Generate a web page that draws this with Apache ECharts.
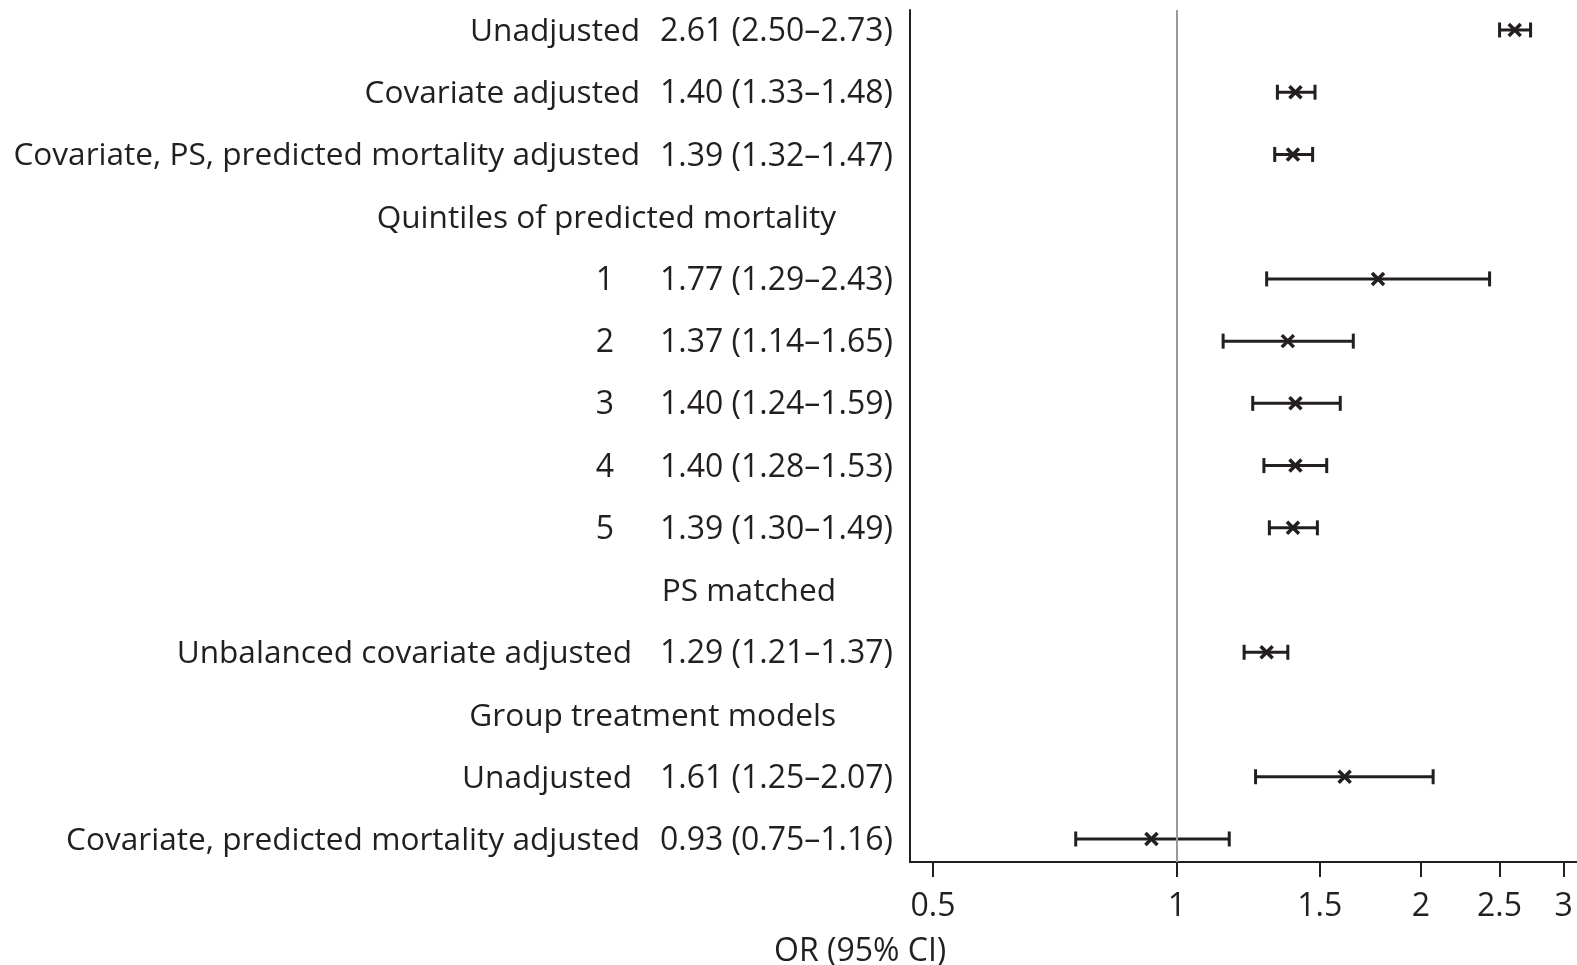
<!DOCTYPE html>
<html>
<head>
<meta charset="utf-8">
<script src="https://cdn.jsdelivr.net/npm/echarts@6/dist/echarts.min.js"></script>
<style>
  html, body { margin: 0; padding: 0; background: #fff; }
  #chart { width: 1577px; height: 965px; }
</style>
</head>
<body>
<div id="chart"></div>
<script>
// Row labels (top to bottom)
const rowLabels = [
  'Unadjusted',
  'Covariate adjusted',
  'Covariate, PS, predicted mortality adjusted',
  'Quintiles of predicted mortality',
  '1', '2', '3', '4', '5',
  'PS matched',
  'Unbalanced covariate adjusted',
  'Group treatment models',
  'Unadjusted',
  'Covariate, predicted mortality adjusted'
];
// row kind: d = data row, h = header, q = quintile row
const rowKinds = ['d','d','d','h','q','q','q','q','q','h','d2','h','d2','d'];
const estimates = [2.61, 1.40, 1.39, null, 1.77, 1.37, 1.40, 1.40, 1.39, null, 1.29, null, 1.61, 0.93];
const lowerCI   = [2.50, 1.33, 1.32, null, 1.29, 1.14, 1.24, 1.28, 1.30, null, 1.21, null, 1.25, 0.75];
const upperCI   = [2.73, 1.48, 1.47, null, 2.43, 1.65, 1.59, 1.53, 1.49, null, 1.37, null, 2.07, 1.16];
const xTickValues = [0.5, 1, 1.5, 2, 2.5, 3];

const ink = '#231f20';
const FONT = 'Open Sans';
const FS = 32;
const LFS = 31.6;

function fmt(v) { return v.toFixed(2); }
function ciText(i) {
  return fmt(estimates[i]) + ' (' + fmt(lowerCI[i]) + '\u2013' + fmt(upperCI[i]) + ')';
}

const seriesData = [];
estimates.forEach((e, i) => {
  if (e != null) seriesData.push([e, lowerCI[i], upperCI[i], i]);
});

const chart = echarts.init(document.getElementById('chart'), null, { renderer: 'canvas' });

chart.setOption({
  animation: false,
  backgroundColor: '#fff',
  textStyle: { fontFamily: FONT, color: ink },
  grid: { left: 910, right: 0, top: 10, bottom: 103, containLabel: false },
  xAxis: {
    type: 'log',
    logBase: 10,
    min: 0.4684,
    max: 3.115,
    splitLine: { show: false },
    axisLine: { show: true, onZero: false, lineStyle: { color: ink, width: 2 } },
    axisTick: { show: true, customValues: xTickValues, length: 15, lineStyle: { color: ink, width: 2 } },
    axisLabel: {
      customValues: xTickValues,
      margin: 29,
      fontSize: FS,
      fontFamily: FONT,
      color: ink,
      formatter: function (v) { return String(Math.round(v * 10) / 10); }
    },
    minorTick: { show: false },
    minorSplitLine: { show: false }
  },
  yAxis: {
    type: 'value',
    inverse: true,
    min: -0.321,
    max: 13.37,
    splitLine: { show: false },
    axisLine: { show: true, onZero: false, lineStyle: { color: ink, width: 2 } },
    axisTick: { show: false },
    axisLabel: {
      customValues: rowLabels.map((_, i) => i),
      margin: 17,
      fontSize: FS,
      fontFamily: FONT,
      color: ink,
      formatter: function (v) {
        const i = Math.round(v);
        const k = rowKinds[i];
        if (k === 'h') return '{h|' + rowLabels[i] + '}';
        if (k === 'q') return '{q|' + rowLabels[i] + '}{n|' + ciText(i) + '}';
        if (k === 'd2') return '{l2|' + rowLabels[i] + '}{n|' + ciText(i) + '}';
        return '{l|' + rowLabels[i] + '}{n|' + ciText(i) + '}';
      },
      rich: {
        h:  { fontSize: LFS, fontFamily: FONT, color: ink, align: 'right', padding: [4, 57, 0, 0] },
        q:  { fontSize: FS, fontFamily: FONT, color: ink, align: 'right', padding: [4, 35, 0, 0] },
        l:  { fontSize: LFS, fontFamily: FONT, color: ink, align: 'right', padding: [4, 9, 0, 0] },
        l2: { fontSize: LFS, fontFamily: FONT, color: ink, align: 'right', padding: [4, 17, 0, 0] },
        n:  { fontSize: FS, fontFamily: FONT, color: ink, align: 'right', width: 244, padding: [4, 0, 0, 0] }
      }
    }
  },
  graphic: [{
    type: 'text',
    left: 866 - 92,
    top: 936,
    style: { text: 'OR (95% CI)', font: FS + 'px "' + FONT + '"', fill: ink }
  }],
  series: [{
    type: 'custom',
    encode: { x: [0, 1, 2], y: 3 },
    data: seriesData,
    renderItem: function (params, api) {
      const y = api.value(3);
      const pE = api.coord([api.value(0), y]);
      const pL = api.coord([api.value(1), y]);
      const pH = api.coord([api.value(2), y]);
      const cap = 7.5, m = 6;
      const st = { stroke: ink, lineWidth: 3 };
      return {
        type: 'group',
        children: [
          { type: 'line', shape: { x1: pL[0], y1: pL[1], x2: pH[0], y2: pH[1] }, style: st },
          { type: 'line', shape: { x1: pL[0], y1: pL[1] - cap, x2: pL[0], y2: pL[1] + cap }, style: st },
          { type: 'line', shape: { x1: pH[0], y1: pH[1] - cap, x2: pH[0], y2: pH[1] + cap }, style: st },
          { type: 'line', shape: { x1: pE[0] - m, y1: pE[1] - m, x2: pE[0] + m, y2: pE[1] + m }, style: { stroke: ink, lineWidth: 3.5 } },
          { type: 'line', shape: { x1: pE[0] - m, y1: pE[1] + m, x2: pE[0] + m, y2: pE[1] - m }, style: { stroke: ink, lineWidth: 3.5 } }
        ]
      };
    },
    markLine: {
      silent: true,
      symbol: 'none',
      label: { show: false },
      lineStyle: { color: '#9a9a9a', width: 2, type: 'solid' },
      data: [{ xAxis: 1 }]
    },
    z: 3
  }]
});
</script>
</body>
</html>
